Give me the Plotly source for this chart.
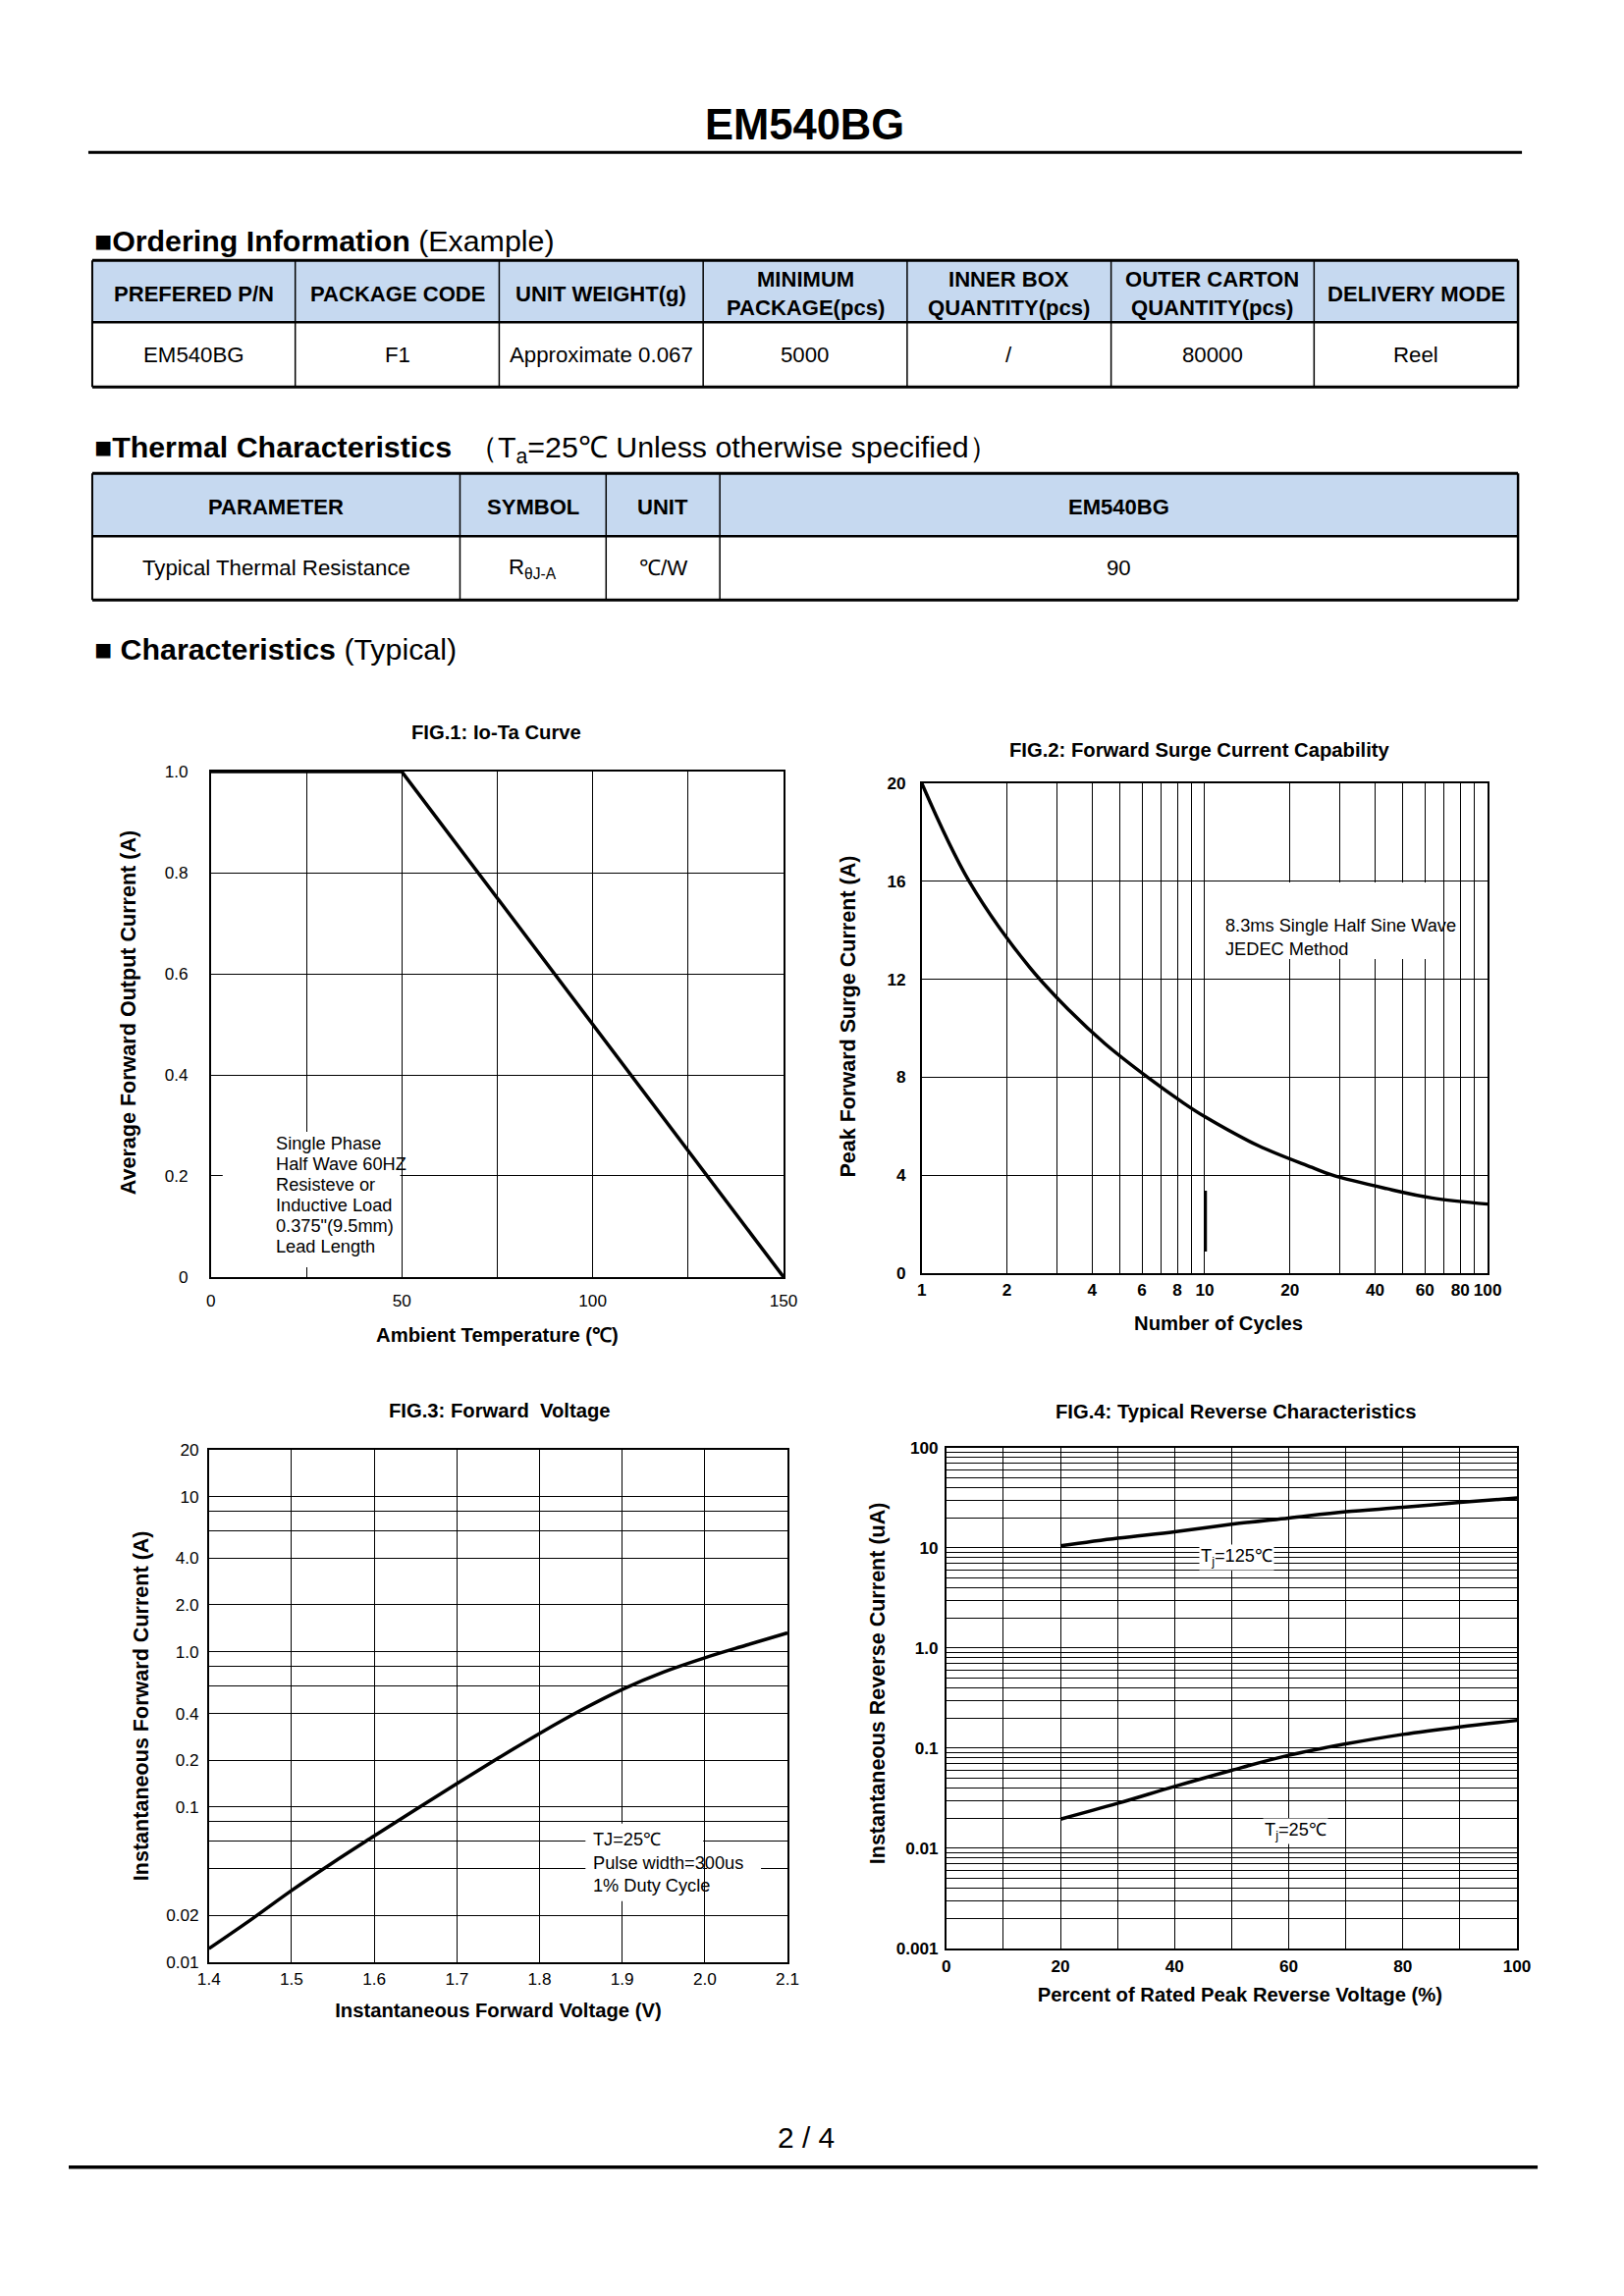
import plotly.graph_objects as go
import math

# ---------------- data ----------------
order_headers = ["PREFERED P/N", "PACKAGE CODE", "UNIT WEIGHT(g)", "MINIMUM<br>PACKAGE(pcs)",
                 "INNER BOX<br>QUANTITY(pcs)", "OUTER CARTON<br>QUANTITY(pcs)", "DELIVERY MODE"]
order_values = ["EM540BG", "F1", "Approximate 0.067", "5000", "/", "80000", "Reel"]

thermal_headers = ["PARAMETER", "SYMBOL", "UNIT", "EM540BG"]
thermal_values = ["Typical Thermal Resistance", "R<sub>θJ-A</sub>", "℃/W", "90"]

# FIG.1 Io-Ta
fig1_temp = [0, 50, 150]
fig1_current = [1.0, 1.0, 0.0]
fig1_xticks = [0, 50, 100, 150]
fig1_yticks = [0, 0.2, 0.4, 0.6, 0.8, 1.0]
fig1_yticktext = ["0", "0.2", "0.4", "0.6", "0.8", "1.0"]
fig1_note = ["Single Phase", "Half Wave 60HZ", "Resisteve or", "Inductive Load", "0.375\"(9.5mm)", "Lead Length"]

# FIG.2 surge
fig2_cycles = [1, 1.47, 2.4, 3.34, 4.43, 6.28, 8.36, 10, 15.5, 23.9, 28.3, 44, 63.5, 100]
fig2_current = [20, 16, 12.5, 10.7, 9.38, 8.0, 6.97, 6.39, 5.2, 4.32, 4.0, 3.45, 3.07, 2.82]
fig2_xticks = [1, 2, 4, 6, 8, 10, 20, 40, 60, 80, 100]
fig2_xminor = [3, 5, 7, 9, 30, 50, 70, 90]
fig2_yticks = [0, 4, 8, 12, 16, 20]

# FIG.3 forward voltage
fig3_volt = [1.40, 1.45, 1.50, 1.55, 1.60, 1.65, 1.70, 1.75, 1.80, 1.85, 1.90, 1.95, 2.00, 2.05, 2.10]
fig3_current = [0.0122, 0.0186, 0.0289, 0.0437, 0.0649, 0.096, 0.141, 0.206, 0.297, 0.419,
                0.571, 0.739, 0.913, 1.10, 1.32]
fig3_xticks = [1.4, 1.5, 1.6, 1.7, 1.8, 1.9, 2.0, 2.1]
fig3_xticktext = ["1.4", "1.5", "1.6", "1.7", "1.8", "1.9", "2.0", "2.1"]
fig3_yticks = [0.01, 0.02, 0.1, 0.2, 0.4, 1, 2, 4, 10, 20]
fig3_yticktext = ["0.01", "0.02", "0.1", "0.2", "0.4", "1.0", "2.0", "4.0", "10", "20"]
fig3_yminor = [0.04, 0.06, 0.08, 0.6, 0.8, 6, 8]

# FIG.4 reverse
fig4_pct = [20, 30, 40, 50, 60, 70, 80, 90, 100]
fig4_i125 = [10.5, 12.5, 14.5, 17.2, 19.9, 23.0, 25.4, 28.5, 31.5]
fig4_i25 = [0.0195, 0.028, 0.0414, 0.060, 0.0847, 0.110, 0.137, 0.163, 0.189]
fig4_xticks = [0, 20, 40, 60, 80, 100]
fig4_xminor = [10, 30, 50, 70, 90]
fig4_yticks = [0.001, 0.01, 0.1, 1, 10, 100]
fig4_yticktext = ["0.001", "0.01", "0.1", "1.0", "10", "100"]

# ---------------- page geometry / style ----------------
PAGE_W, PAGE_H = 1654, 2339
BODY = 8                      # default browser body margin
W, H = PAGE_W - 2 * BODY, PAGE_H - 2 * BODY
# measured capture scaling (page is photographed slightly shrunk about its centre)
SX, SY, CX, CY = 0.9854, 0.9917, 826.0, 1169.0
FS = 1.012                    # font compensation for the capture scaling
FONT = "Arial, Liberation Sans, sans-serif"
BLUE = "#C6D9F0"
NB = "\u00a0"


def X(p):
    q = CX + (p - CX) / SX
    return (q - BODY) / W


def Y(p):
    q = CY + (p - CY) / SY
    return 1 - (q - BODY) / H


fig = go.Figure()
shapes = []
annos = []


def text(x, y, s, size, xanchor="center", yanchor="middle", align="center", bg=None, bold=False):
    if bold:
        s = "<b>" + s + "</b>"
    d = dict(x=X(x), y=Y(y), xref="paper", yref="paper", text=s, showarrow=False,
             xanchor=xanchor, yanchor=yanchor, align=align,
             font=dict(family=FONT, size=size * FS, color="black"))
    if bg:
        d.update(bgcolor=bg, borderpad=1)
    annos.append(d)


def lines_text(x, ymid, s, size, spacing, **kw):
    parts = s.split("<br>")
    n = len(parts)
    for i, p in enumerate(parts):
        text(x, ymid + (i - (n - 1) / 2) * spacing, p, size, **kw)


def line(x0, y0, x1, y1, w, color="black"):
    shapes.append(dict(type="line", xref="paper", yref="paper", x0=X(x0), y0=Y(y0), x1=X(x1), y1=Y(y1),
                       line=dict(color=color, width=w)))


def rect(x0, y0, x1, y1, fill, layer="below"):
    shapes.append(dict(type="rect", xref="paper", yref="paper", x0=X(x0), y0=Y(y0), x1=X(x1), y1=Y(y1),
                       fillcolor=fill, line=dict(width=0), layer=layer))


# title and rules
text(820, 127, "EM540BG", 43, bold=True)
line(90, 155, 1552, 155, 3)
line(70, 2208, 1568, 2208, 3.5)
text(822, 2178, "2 / 4", 29.5)

SQ = "<span style='font-size:30px'>■</span>"
text(94, 245, SQ + "<b>Ordering Information</b> (Example)", 30, xanchor="left")
text(94, 458, SQ + "<b>Thermal Characteristics</b>  （T<sub>a</sub>=25℃ Unless otherwise specified）", 30,
     xanchor="left")
text(94, 661, SQ + " <b>Characteristics</b> (Typical)", 30, xanchor="left")


def table(xedges, y0, y1, y2, headers, values):
    rect(xedges[0], y0, xedges[-1], y1, BLUE)
    for i, (h, v) in enumerate(zip(headers, values)):
        cx = (xedges[i] + xedges[i + 1]) / 2
        lines_text(cx, (y0 + y1) / 2 + 2.5, h, 21.8, 29, bold=True)
        text(cx, (y1 + y2) / 2, v, 22)
    for xe in xedges[1:-1]:
        line(xe, y0, xe, y2, 1.5)
    line(xedges[0], y0, xedges[-1], y0, 3)
    line(xedges[0], y1, xedges[-1], y1, 2.5)
    line(xedges[0], y2, xedges[-1], y2, 3)
    line(xedges[0], y0, xedges[0], y2, 2)
    line(xedges[-1], y0, xedges[-1], y2, 2.5)


table([94, 301, 509, 717, 925, 1133, 1340, 1548], 265, 328, 394, order_headers, order_values)
table([94, 469, 618, 734, 1548], 482, 546, 611, thermal_headers, thermal_values)


# ---------------- charts ----------------
def ax(dom, **kw):
    is_x = kw.pop("is_x")
    d = dict(domain=[X(dom[0]), X(dom[1])] if is_x else [Y(dom[1]), Y(dom[0])],
             showline=True, mirror=True, linecolor="black", linewidth=1.5,
             showgrid=True, gridcolor="black", gridwidth=1, zeroline=False, ticks="",
             fixedrange=True, tickfont=dict(family=FONT, size=17 * FS, color="black"))
    bold_ticks = kw.pop("bold_ticks", False)
    if bold_ticks:
        d["tickfont"]["weight"] = "bold"
    title = kw.pop("title_text", None)
    standoff = kw.pop("standoff", 10)
    pad = kw.pop("pad", 0)
    if title:
        d["title"] = dict(text="<b>" + NB * pad + title + "</b>", standoff=standoff,
                          font=dict(family=FONT, size=(20 if is_x else 21.3) * FS, color="black"))
    minor = kw.pop("minor_vals", None)
    if minor:
        d["minor"] = dict(tickmode="array", tickvals=minor, showgrid=True, gridcolor="black",
                          gridwidth=1, ticks="")
    d.update(kw)
    return d


CURVE = dict(color="black", width=3.5)

fig.add_trace(go.Scatter(x=fig1_temp, y=fig1_current, mode="lines", line=CURVE,
                         xaxis="x", yaxis="y", showlegend=False, hoverinfo="skip"))
fig.add_trace(go.Scatter(x=fig2_cycles, y=fig2_current, mode="lines", line=dict(CURVE, shape="spline"),
                         xaxis="x2", yaxis="y2", showlegend=False, hoverinfo="skip"))
fig.add_trace(go.Scatter(x=fig3_volt, y=fig3_current, mode="lines", line=dict(CURVE, shape="spline"),
                         xaxis="x3", yaxis="y3", showlegend=False, hoverinfo="skip"))
fig.add_trace(go.Scatter(x=fig4_pct, y=fig4_i125, mode="lines", line=dict(CURVE, shape="spline"),
                         xaxis="x4", yaxis="y4", showlegend=False, hoverinfo="skip"))
fig.add_trace(go.Scatter(x=fig4_pct, y=fig4_i25, mode="lines", line=dict(CURVE, shape="spline"),
                         xaxis="x4", yaxis="y4", showlegend=False, hoverinfo="skip"))

F1X, F1Y = (215, 799), (786, 1301)
F2X, F2Y = (940, 1517), (798, 1297)
F3X, F3Y = (213, 803), (1477, 1999)
F4X, F4Y = (965, 1547), (1475, 1985)

fig.update_layout(
    xaxis=ax(F1X, is_x=True, anchor="y", range=[0, 150], tickvals=fig1_xticks,
             minor_vals=[25, 75, 125], title_text="Ambient Temperature (℃)", standoff=18,
             ticklabelstandoff=8),
    yaxis=ax(F1Y, is_x=False, anchor="x", range=[0, 1.0], tickvals=fig1_yticks, ticktext=fig1_yticktext,
             title_text="Average Forward Output Current (A)", standoff=23, ticklabelstandoff=18, pad=4),
    xaxis2=ax(F2X, is_x=True, anchor="y2", type="log", range=[0, 2], tickvals=fig2_xticks,
              minor_vals=fig2_xminor, bold_ticks=True, title_text="Number of Cycles", standoff=17,
              ticklabelstandoff=1, pad=5),
    yaxis2=ax(F2Y, is_x=False, anchor="x2", range=[0, 20], tickvals=fig2_yticks, bold_ticks=True,
              title_text="Peak Forward Surge Current (A)", standoff=26, ticklabelstandoff=11, pad=4),
    xaxis3=ax(F3X, is_x=True, anchor="y3", range=[1.4, 2.1], tickvals=fig3_xticks, ticktext=fig3_xticktext,
              title_text="Instantaneous Forward Voltage (V)", standoff=16, ticklabelstandoff=1),
    yaxis3=ax(F3Y, is_x=False, anchor="x3", type="log", range=[-2, math.log10(20)], tickvals=fig3_yticks,
              ticktext=fig3_yticktext, minor_vals=fig3_yminor,
              title_text="Instantaneous Forward Current (A)", standoff=12, ticklabelstandoff=5),
    xaxis4=ax(F4X, is_x=True, anchor="y4", range=[0, 100], tickvals=fig4_xticks, minor_vals=fig4_xminor,
              bold_ticks=True, title_text="Percent of Rated Peak Reverse Voltage (%)", standoff=13,
              ticklabelstandoff=2, pad=3),
    yaxis4=ax(F4Y, is_x=False, anchor="x4", type="log", range=[-3, 2], tickvals=fig4_yticks,
              ticktext=fig4_yticktext, bold_ticks=True,
              minor_vals=[m * d for d in fig4_yticks[:-1] for m in range(2, 10)],
              title_text="Instantaneous Reverse Current (uA)", standoff=5, ticklabelstandoff=3, pad=5),
)

# figure titles
text(506, 746, "FIG.1: Io-Ta Curve", 20, bold=True)
text(1223, 764, "FIG.2: Forward Surge Current Capability", 20, bold=True)
text(510, 1437, "FIG.3: Forward  Voltage", 20, bold=True)
text(1260, 1438, "FIG.4: Typical Reverse Characteristics", 20, bold=True)

# in-chart notes (white masks over grid)
rect(227, 1153, 408, 1291, "white", layer="above")
lines_text(279, 1217.5, "<br>".join(fig1_note), 18, 21, xanchor="left", align="left")

rect(1231, 899, 1468, 977, "white", layer="above")
text(1248, 955, "8.3ms Single Half Sine Wave<br>JEDEC Method", 18, xanchor="left", align="left")
line(1229.5, 1213, 1229.5, 1275, 2.5)     # short heavier stroke on the 10-cycle line (as in source)

rect(597, 1858, 717, 1937, "white", layer="above")
rect(721, 1890, 776, 1910, "white", layer="above")
text(603, 1898, "TJ=25℃<br>Pulse width=300us<br>1% Duty Cycle", 18, xanchor="left", align="left")

text(1261, 1587, "T<sub>j</sub>=125℃", 18, bg="white")
text(1321, 1866, "T<sub>j</sub>=25℃", 18, bg="white")

fig.update_layout(
    width=W, height=H, margin=dict(l=0, r=0, t=0, b=0),
    paper_bgcolor="white", plot_bgcolor="white",
    shapes=shapes, annotations=annos, showlegend=False,
    font=dict(family=FONT, color="black"),
)

fig.write_html("out.html", config={"displayModeBar": False})
